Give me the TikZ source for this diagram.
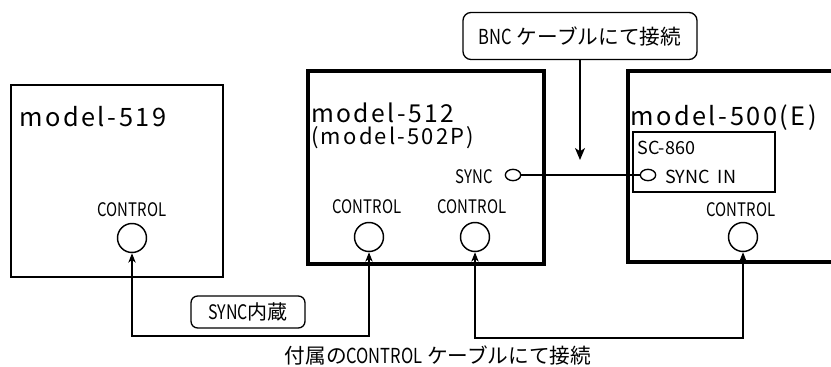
\documentclass[tikz,border=0pt]{standalone}
\usepackage{fontspec}
\usepackage{tikz}
\usetikzlibrary{shapes.geometric,arrows.meta}
\setmainfont{Noto Sans CJK JP}
\newfontfamily\narrowfont{Noto Sans CJK JP}[FakeStretch=0.8]
\newfontfamily\modelfont{Noto Sans CJK JP}[LetterSpace=10]

\begin{document}
\begin{tikzpicture}[x=0.75pt, y=-0.75pt, >={Stealth[length=7pt,width=5.5pt,inset=2pt]}, every node/.style={inner sep=0pt},
  unit/.style={draw, rectangle, line width=1pt},
  mainunit/.style={draw, rectangle, line width=2.4pt},
  port/.style={draw, circle, line width=1.1pt, minimum size=21.75pt},
  jack/.style={draw, ellipse, line width=1pt, minimum width=11.5pt, minimum height=8.5pt},
  portlbl/.style={font=\narrowfont\fontsize{14}{16}\selectfont},
  tag/.style={draw, rounded corners=6pt, line width=1pt}]
\clip (0,0) rectangle (831,367);
% units
\node[unit, minimum width=159pt, minimum height=144pt] (m519) at (117,181) {};
\node[mainunit, minimum width=177pt, minimum height=144.75pt] (m512) at (426,167.5) {};
\node[mainunit, minimum width=162.75pt, minimum height=143.25pt] (m500) at (736.5,166.5) {};
\node[unit, minimum width=106.5pt, minimum height=45pt] (sc) at (704,162) {};
\node[anchor=base west, font=\modelfont\fontsize{19}{20}\selectfont] (t519) at (19,127) {model-519};
\node[anchor=base west, font=\modelfont\fontsize{18.5}{20}\selectfont] (t512) at (311,123) {model-512};
\node[anchor=base west, font=\modelfont\fontsize{16.5}{18}\selectfont] (t502) at (311,145) {(model-502P)};
\node[anchor=base west, font=\modelfont\fontsize{19}{20}\selectfont] (t500) at (630,126) {model-500(E)};
\node[anchor=base west, font=\fontsize{13.5}{15}\selectfont] (tsc) at (637,155) {SC-860};
% ports
\node[anchor=base, portlbl] (l519) at (132,216) {CONTROL};
\node[anchor=base, portlbl] (l512a) at (367,213) {CONTROL};
\node[anchor=base, portlbl] (l512b) at (472,213) {CONTROL};
\node[anchor=base, portlbl] (l500) at (741,216) {CONTROL};
\node[port] (c519) at (132,238) {};
\node[port] (c512a) at (369,237) {};
\node[port] (c512b) at (475,237) {};
\node[port] (c500) at (743,237) {};
\node[jack] (j512) at (513,175) {};
\node[jack] (j500) at (648,175) {};
\node[anchor=base east, portlbl] (tsync) at (493,183) {SYNC};
\node[anchor=base west, font=\fontsize{13.5}{15}\selectfont] (tsyncin) at (665,183) {SYNC\ \ IN};
% cables
\node[tag, minimum width=175.5pt, minimum height=35.25pt, font=\fontsize{15.5}{17}\selectfont] (bnc) at (580,36) {{\narrowfont BNC} ケーブルにて接続};
\coordinate (bncend) at (580,160);
\node[tag, minimum width=85.5pt, minimum height=24pt, rounded corners=5pt, font=\fontsize{15}{17}\selectfont] (inner) at (248,312) {{\narrowfont SYNC}内蔵};
\node[font=\fontsize{15.5}{17}\selectfont] (ctrl) at (438,355) {付属の{\narrowfont CONTROL} ケーブルにて接続};
\coordinate (low1) at (250,336);
\coordinate (low2) at (600,338);
\draw[-{Stealth[length=9pt,width=7.5pt,inset=2.5pt]}, line width=1pt] (bnc) -- (bncend);
\draw[line width=1pt] (j512) -- (j500);
\draw[<->, line width=1pt] (c519) |- (low1) -| (c512a);
\draw[<->, line width=1pt] (c512b) |- (low2) -| (c500);
\end{tikzpicture}
\end{document}
